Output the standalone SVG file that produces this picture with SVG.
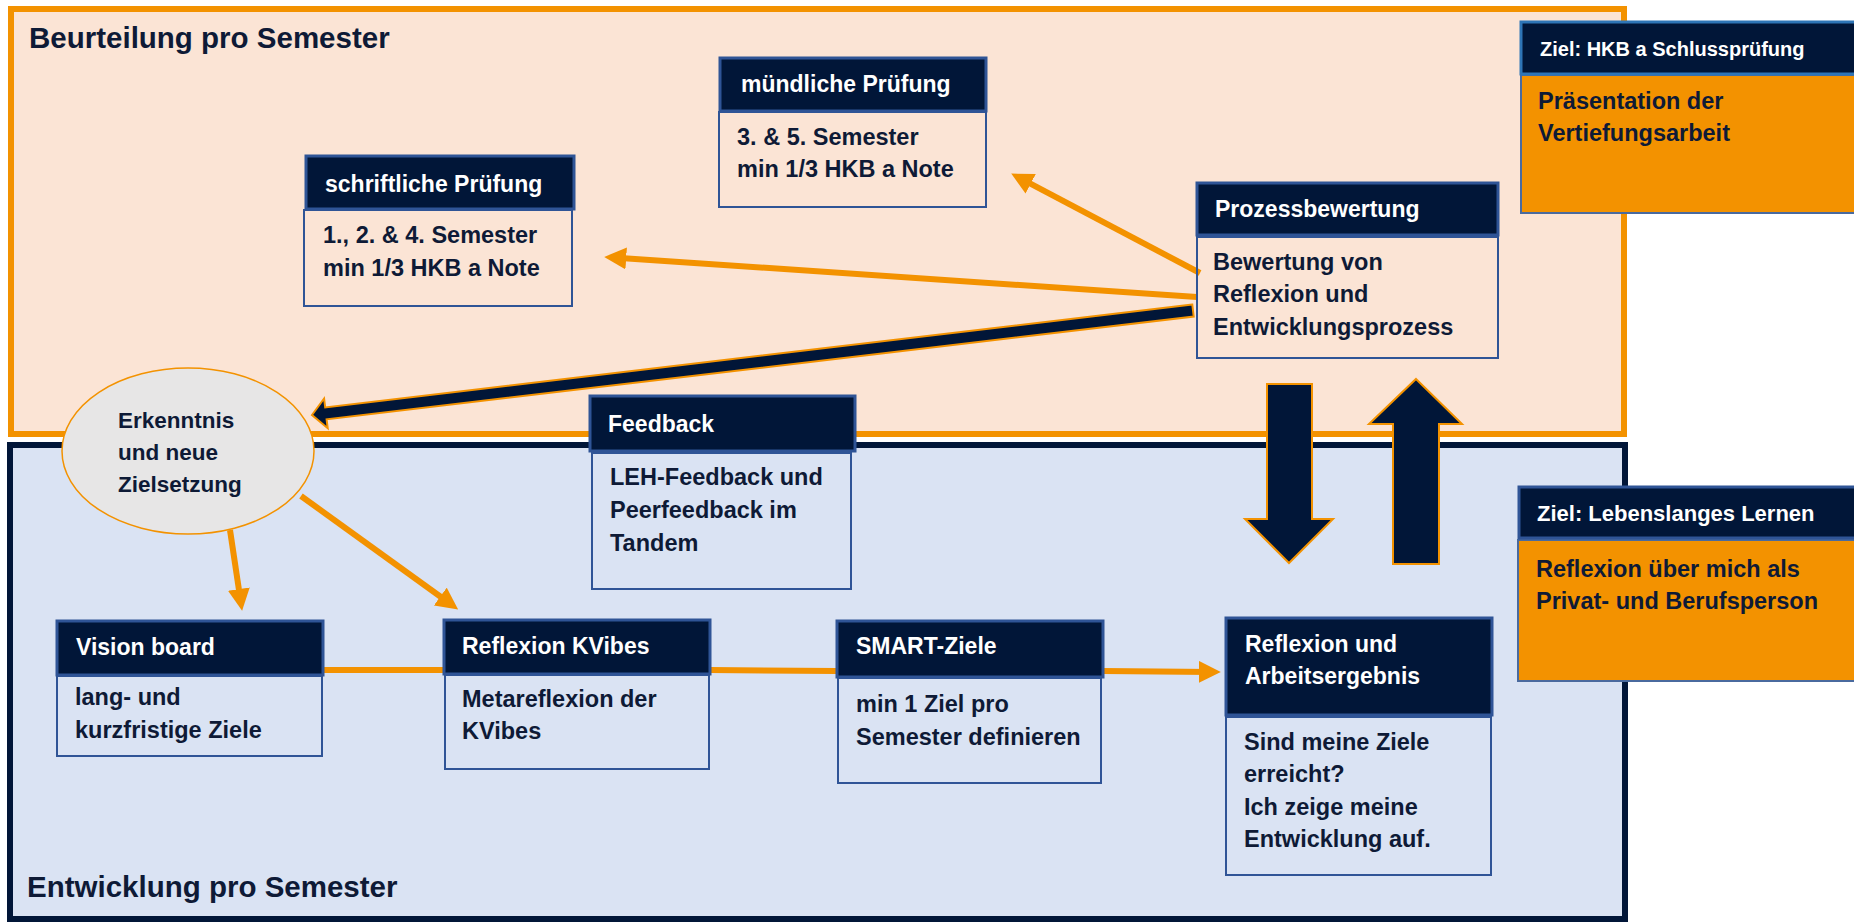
<svg xmlns="http://www.w3.org/2000/svg" width="1854" height="922" viewBox="0 0 1854 922">
<defs>
<style>
.hdr{fill:#011638;stroke:#2f5496;stroke-width:3}
.box{fill:none;stroke:#2f5496;stroke-width:2}
.zbox{fill:#f39200;stroke:#4a6a9e;stroke-width:2}
.t{font-family:'Liberation Sans',Arial,sans-serif;font-weight:bold;font-size:23.5px;fill:#0e1a36}
.et{font-family:'Liberation Sans',Arial,sans-serif;font-weight:bold;font-size:22.5px;fill:#0e1a36}
.ht{font-family:'Liberation Sans',Arial,sans-serif;font-weight:bold;font-size:23px;fill:#ffffff}
.zh{font-family:'Liberation Sans',Arial,sans-serif;font-weight:bold;font-size:20px;fill:#ffffff}
.title{font-family:'Liberation Sans',Arial,sans-serif;font-weight:bold;font-size:29.5px;fill:#0e1a36}
.conn{stroke:#f39200;stroke-width:6;fill:none}
.big{fill:#011638;stroke:#f39200;stroke-width:2;stroke-linejoin:miter}
</style>
<marker id="ah" markerUnits="userSpaceOnUse" markerWidth="22" markerHeight="22" viewBox="0 0 20 20" refX="12" refY="10" orient="auto">
<path d="M0,0 L20,10 L0,20 z" fill="#f39200"/>
</marker>
</defs>

<g id="frames">
<rect id="beurteilung" x="11" y="9" width="1613" height="425" fill="#fbe4d5" stroke="#f39200" stroke-width="6"/>
<rect id="entwicklung" x="10" y="445" width="1615" height="474" fill="#dae3f3" stroke="#011638" stroke-width="6"/>
<text class="title" x="29" y="48">Beurteilung pro Semester</text>
<text class="title" x="27" y="897">Entwicklung pro Semester</text>
</g>

<g id="connectors">
<line class="conn" x1="1197" y1="297" x2="613" y2="257.5" marker-end="url(#ah)"/>
<line class="conn" x1="1200" y1="273" x2="1019" y2="177.7" marker-end="url(#ah)"/>
<line class="conn" x1="230" y1="530" x2="240.8" y2="602.1" marker-end="url(#ah)"/>
<line class="conn" x1="301" y1="496" x2="451" y2="604.3" marker-end="url(#ah)"/>
<line class="conn" x1="323" y1="670" x2="444" y2="670"/>
<line class="conn" x1="710" y1="670" x2="837" y2="671"/>
<line class="conn" x1="1103" y1="671" x2="1212" y2="672" marker-end="url(#ah)"/>
<polygon class="big" points="1192.3,304.5 325.2,407.4 324.1,398.5 312,415 327.7,428.2 326.6,419.3 1193.7,316.5"/>
<polygon class="big" points="1267,384 1312,384 1312,519 1333,519 1289,563 1245,519 1267,519"/>
<polygon class="big" points="1416,379 1462,424 1439,424 1439,564 1393,564 1393,424 1369,424"/>
</g>

<g id="erkenntnis">
<ellipse cx="188" cy="451" rx="126" ry="83" fill="#e7e6e6" stroke="#f39200" stroke-width="1.5"/>
<text class="et" x="118" y="428">Erkenntnis</text>
<text class="et" x="118" y="460">und neue</text>
<text class="et" x="118" y="492">Zielsetzung</text>
</g>

<g id="schriftliche">
<rect class="hdr" x="306" y="156" width="268" height="53"/>
<text class="ht" x="325" y="192">schriftliche Prüfung</text>
<rect class="box" x="304" y="210" width="268" height="96"/>
<text class="t" x="323" y="243">1., 2. &amp; 4. Semester</text>
<text class="t" x="323" y="276">min 1/3 HKB a Note</text>
</g>

<g id="muendliche">
<rect class="hdr" x="720" y="58" width="266" height="53"/>
<text class="ht" x="741" y="92">mündliche Prüfung</text>
<rect class="box" x="719" y="112" width="267" height="95"/>
<text class="t" x="737" y="145">3. &amp; 5. Semester</text>
<text class="t" x="737" y="177">min 1/3 HKB a Note</text>
</g>

<g id="prozess">
<rect class="hdr" x="1197" y="183" width="301" height="52"/>
<text class="ht" x="1215" y="217">Prozessbewertung</text>
<rect class="box" x="1197" y="237" width="301" height="121"/>
<text class="t" x="1213" y="270">Bewertung von</text>
<text class="t" x="1213" y="302">Reflexion und</text>
<text class="t" x="1213" y="335">Entwicklungsprozess</text>
</g>

<g id="feedback">
<rect class="hdr" x="590" y="396" width="265" height="55"/>
<text class="ht" x="608" y="432">Feedback</text>
<rect class="box" x="592" y="453" width="259" height="136"/>
<text class="t" x="610" y="485">LEH-Feedback und</text>
<text class="t" x="610" y="518">Peerfeedback im</text>
<text class="t" x="610" y="551">Tandem</text>
</g>

<g id="vision">
<rect class="hdr" x="57" y="621" width="266" height="54"/>
<text class="ht" x="76" y="655">Vision board</text>
<rect class="box" x="57" y="676" width="265" height="80"/>
<text class="t" x="75" y="705">lang- und</text>
<text class="t" x="75" y="738">kurzfristige Ziele</text>
</g>

<g id="kvibes">
<rect class="hdr" x="444" y="620" width="266" height="54"/>
<text class="ht" x="462" y="654">Reflexion KVibes</text>
<rect class="box" x="445" y="675" width="264" height="94"/>
<text class="t" x="462" y="707">Metareflexion der</text>
<text class="t" x="462" y="739">KVibes</text>
</g>

<g id="smart">
<rect class="hdr" x="837" y="621" width="266" height="56"/>
<text class="ht" x="856" y="654">SMART-Ziele</text>
<rect class="box" x="838" y="678" width="263" height="105"/>
<text class="t" x="856" y="712">min 1 Ziel pro</text>
<text class="t" x="856" y="745">Semester definieren</text>
</g>

<g id="reflexion">
<rect class="hdr" x="1226" y="618" width="266" height="97"/>
<text class="ht" x="1245" y="652">Reflexion und</text>
<text class="ht" x="1245" y="684">Arbeitsergebnis</text>
<rect class="box" x="1226" y="717" width="265" height="158"/>
<text class="t" x="1244" y="750">Sind meine Ziele</text>
<text class="t" x="1244" y="782">erreicht?</text>
<text class="t" x="1244" y="815">Ich zeige meine</text>
<text class="t" x="1244" y="847">Entwicklung auf.</text>
</g>

<g id="ziel-hkb">
<rect class="zbox" x="1521" y="75" width="340" height="138"/>
<rect x="1521" y="22" width="340" height="52" fill="#011638" stroke="#2e75b6" stroke-width="3"/>
<text class="zh" x="1540" y="56">Ziel: HKB a Schlussprüfung</text>
<text class="t" x="1538" y="109">Präsentation der</text>
<text class="t" x="1538" y="141">Vertiefungsarbeit</text>
</g>

<g id="ziel-lernen">
<rect class="zbox" x="1518" y="540" width="340" height="141"/>
<rect class="hdr" x="1519" y="487" width="340" height="51"/>
<text class="zh" x="1537" y="521" style="font-size:22px">Ziel: Lebenslanges Lernen</text>
<text class="t" x="1536" y="577">Reflexion über mich als</text>
<text class="t" x="1536" y="609">Privat- und Berufsperson</text>
</g>
</svg>
